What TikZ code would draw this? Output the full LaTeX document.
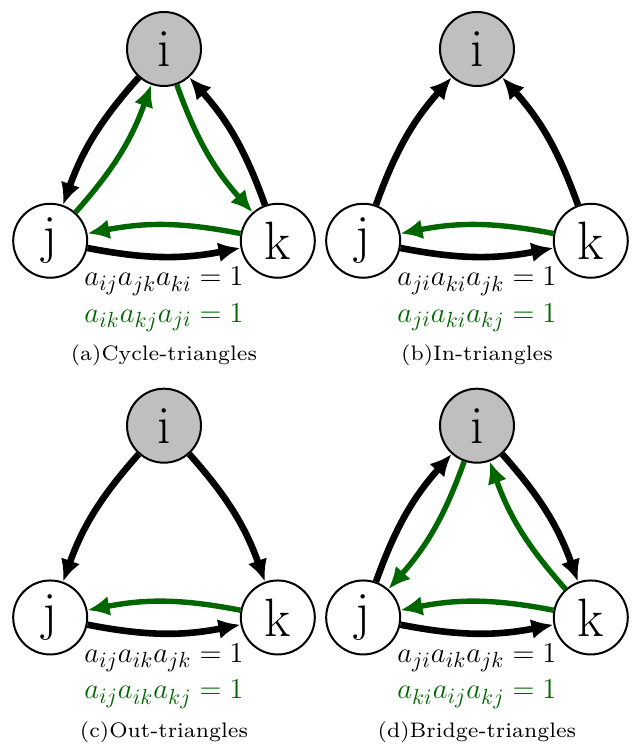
\documentclass[tikz,border=0pt]{standalone}
\usepackage{amsmath}
\usepackage{tikz}
\usetikzlibrary{arrows.meta}

\definecolor{dgreen}{rgb}{0,0.4,0}

\begin{document}
\begin{tikzpicture}[>={Latex[length=11pt,width=10pt]},
    vert/.style={circle, draw, line width=1pt, minimum size=37pt, inner sep=0pt, font=\fontsize{27}{30}\selectfont},
    blk/.style={->, line width=3.3pt},
    grn/.style={->, line width=2.7pt, dgreen},
    eq/.style={anchor=base, font=\fontsize{15.5}{18}\selectfont},
    captxt/.style={anchor=base, font=\scriptsize, scale=1.5}]

    \useasboundingbox (-2.882,0.861) rectangle (8.242,-12.284);

    % --- (a) Cycle ---
    \begin{scope}
      \node[vert, fill=gray!50] (ia) at (0,0) {i};
      \node[vert] (ja) at (-2,-3.37) {j};
      \node[vert] (ka) at (2,-3.37) {k};
      \draw[blk] (ia) to[bend right=11] (ja);
      \draw[grn] (ja) to[bend right=11] (ia);
      \draw[grn] (ia) to[bend right=11] (ka);
      \draw[blk] (ka) to[bend right=11] (ia);
      \draw[blk] (ja) to[bend right=11] (ka);
      \draw[grn] (ka) to[bend right=11] (ja);
      \node[eq] (ea) at (0,-4.165) {$a_{ij}a_{jk}a_{ki}=1$};
      \node[eq, dgreen] (fa) at (0,-4.80) {$a_{ik}a_{kj}a_{ji}=1$};
      \node[captxt] (ca) at (0,-5.48) {(a)Cycle-triangles};
    \end{scope}

    % --- (b) In ---
    \begin{scope}[xshift=5.5cm]
      \node[vert, fill=gray!50] (ib) at (0,0) {i};
      \node[vert] (jb) at (-2,-3.37) {j};
      \node[vert] (kb) at (2,-3.37) {k};
      \draw[blk] (jb) to[bend left=11] (ib);
      \draw[blk] (kb) to[bend right=11] (ib);
      \draw[blk] (jb) to[bend right=11] (kb);
      \draw[grn] (kb) to[bend right=11] (jb);
      \node[eq] (eb) at (0,-4.165) {$a_{ji}a_{ki}a_{jk}=1$};
      \node[eq, dgreen] (fb) at (0,-4.80) {$a_{ji}a_{ki}a_{kj}=1$};
      \node[captxt] (cb) at (0,-5.48) {(b)In-triangles};
    \end{scope}

    % --- (c) Out ---
    \begin{scope}[yshift=-6.62cm]
      \node[vert, fill=gray!50] (ic) at (0,0) {i};
      \node[vert] (jc) at (-2,-3.37) {j};
      \node[vert] (kc) at (2,-3.37) {k};
      \draw[blk] (ic) to[bend right=11] (jc);
      \draw[blk] (ic) to[bend left=11] (kc);
      \draw[blk] (jc) to[bend right=11] (kc);
      \draw[grn] (kc) to[bend right=11] (jc);
      \node[eq] (ec) at (0,-4.165) {$a_{ij}a_{ik}a_{jk}=1$};
      \node[eq, dgreen] (fc) at (0,-4.80) {$a_{ij}a_{ik}a_{kj}=1$};
      \node[captxt] (cc) at (0,-5.48) {(c)Out-triangles};
    \end{scope}

    % --- (d) Bridge ---
    \begin{scope}[xshift=5.5cm, yshift=-6.62cm]
      \node[vert, fill=gray!50] (id) at (0,0) {i};
      \node[vert] (jd) at (-2,-3.37) {j};
      \node[vert] (kd) at (2,-3.37) {k};
      \draw[blk] (jd) to[bend left=11] (id);
      \draw[grn] (id) to[bend left=11] (jd);
      \draw[blk] (id) to[bend left=11] (kd);
      \draw[grn] (kd) to[bend left=11] (id);
      \draw[blk] (jd) to[bend right=11] (kd);
      \draw[grn] (kd) to[bend right=11] (jd);
      \node[eq] (ed) at (0,-4.165) {$a_{ji}a_{ik}a_{jk}=1$};
      \node[eq, dgreen] (fd) at (0,-4.80) {$a_{ki}a_{ij}a_{kj}=1$};
      \node[captxt] (cd) at (0,-5.48) {(d)Bridge-triangles};
    \end{scope}
  \end{tikzpicture}
\end{document}
